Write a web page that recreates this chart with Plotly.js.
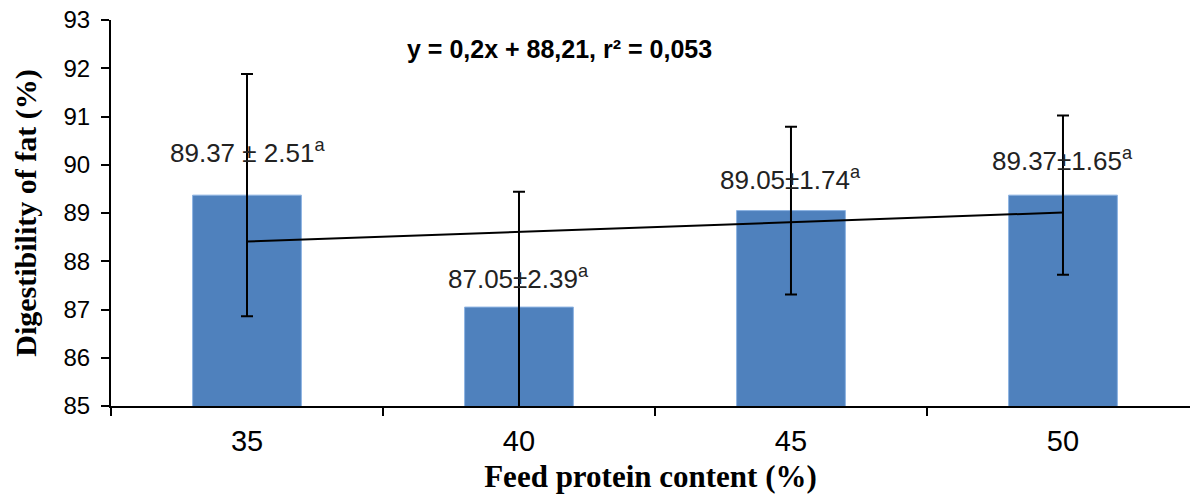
<!DOCTYPE html>
<html>
<head>
<meta charset="utf-8">
<script src="https://cdn.plot.ly/plotly-3.0.1.min.js"></script>
<style>
  html, body { margin: 0; padding: 0; background: #fff; }
  #chart { width: 1190px; height: 495px; }
</style>
</head>
<body>
<div id="chart"></div>
<script>
// ---- data ----
var categories = ['35', '40', '45', '50'];
var meanValues = [89.37, 87.05, 89.05, 89.37];
var sdValues = [2.51, 2.39, 1.74, 1.65];
var labelTexts = ['89.37 ± 2.51<sup>a</sup>', '87.05±2.39<sup>a</sup>', '89.05±1.74<sup>a</sup>', '89.37±1.65<sup>a</sup>'];
var trendCategories = ['35', '50'];
var trendValues = [88.41, 89.01];
var equationText = 'y = 0,2x + 88,21, r² = 0,053';
var yTickValues = [85, 86, 87, 88, 89, 90, 91, 92, 93];

// label vertical placement (data units), layout only
var labelY = [90.27, 87.67, 89.72, 90.10];

var bars = {
  type: 'bar',
  x: categories,
  y: meanValues,
  marker: { color: '#4F81BD', line: { color: '#8DB3E2', width: 1 } },
  error_y: { type: 'data', array: sdValues, visible: true, color: '#000', thickness: 2, width: 6 },
  hoverinfo: 'skip',
  showlegend: false
};

var trend = {
  type: 'scatter',
  mode: 'lines',
  x: trendCategories,
  y: trendValues,
  line: { color: '#000', width: 2 },
  hoverinfo: 'skip',
  showlegend: false
};

var annotations = categories.map(function (c, i) {
  return {
    x: i, y: labelY[i], xref: 'x', yref: 'y',
    text: labelTexts[i], showarrow: false,
    xanchor: 'center', yanchor: 'middle',
    font: { family: 'Liberation Sans, Arial, sans-serif', size: 26, color: '#222' }
  };
});
annotations.push({
  x: 0.416, y: 0.925, xref: 'paper', yref: 'paper',
  text: '<b>' + equationText + '</b>', showarrow: false,
  xanchor: 'center', yanchor: 'middle',
  font: { family: 'Liberation Sans, Arial, sans-serif', size: 25, color: '#000' }
});

var layout = {
  width: 1190, height: 495,
  margin: { l: 111, r: 0, t: 20, b: 89 },
  paper_bgcolor: '#fff', plot_bgcolor: '#fff',
  bargap: 0.6,
  showlegend: false,
  xaxis: {
    type: 'category',
    range: [-0.5, 3.467],
    tickson: 'boundaries',
    ticks: 'outside', ticklen: 8, tickwidth: 2, tickcolor: '#000',
    ticklabelstandoff: 8,
    showline: true, linecolor: '#000', linewidth: 2,
    showgrid: false, zeroline: false,
    tickfont: { family: 'Liberation Sans, Arial, sans-serif', size: 29, color: '#000' },
    title: {
      text: '<b>Feed protein content (%)</b>',
      font: { family: 'Liberation Serif, Times New Roman, serif', size: 31, color: '#000' },
      standoff: 10
    },
    automargin: false
  },
  yaxis: {
    range: [85, 93],
    tickvals: yTickValues,
    ticks: 'outside', ticklen: 8, tickwidth: 2, tickcolor: '#000',
    ticklabelstandoff: 6,
    showline: true, linecolor: '#000', linewidth: 2,
    showgrid: false, zeroline: false,
    tickfont: { family: 'Liberation Sans, Arial, sans-serif', size: 24, color: '#000' },
    title: {
      text: '<b>Digestibility of fat (%)</b>',
      font: { family: 'Liberation Serif, Times New Roman, serif', size: 30, color: '#000' },
      standoff: 18
    },
    automargin: false
  },
  annotations: annotations
};

Plotly.newPlot('chart', [bars, trend], layout, { displayModeBar: false, staticPlot: true });
</script>
</body>
</html>
